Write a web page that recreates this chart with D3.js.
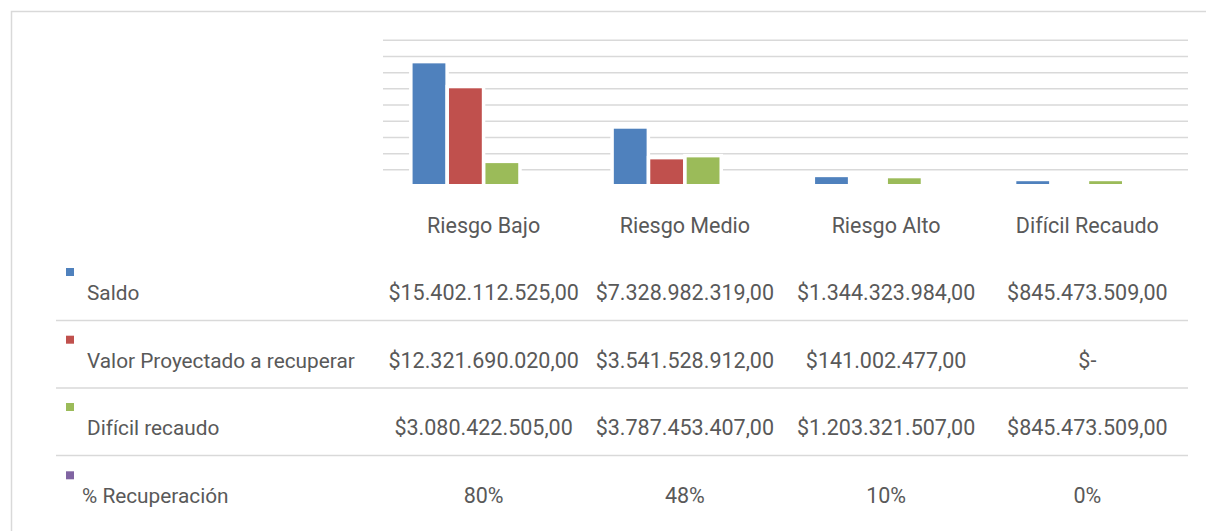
<!DOCTYPE html>
<html>
<head>
<meta charset="utf-8">
<script src="https://cdn.jsdelivr.net/npm/d3@7"></script>
<style>
  body { margin: 0; background: #fff; }
  text { font-family: Roboto, "Noto Sans", sans-serif; fill: #595959; }
</style>
</head>
<body>
<svg id="svg" width="1206" height="531"></svg>
<script>
const categories = ['Riesgo Bajo', 'Riesgo Medio', 'Riesgo Alto', 'Difícil Recaudo']
const seriesNames = ['Saldo', 'Valor Proyectado a recuperar', 'Difícil recaudo', '% Recuperación']
const saldo = [15402112525, 7328982319, 1344323984, 845473509]
const valorProyectado = [12321690020, 3541528912, 141002477, 0]
const dificilRecaudo = [3080422505, 3787453407, 1203321507, 845473509]
const recuperacion = [0.80, 0.48, 0.10, 0]
const colors = ['#4f81bd', '#c0504d', '#9bbb59', '#8064a2']
const gridValues = [2.25e9, 4.25e9, 6.25e9, 8.25e9, 10.25e9, 12.25e9, 14.25e9, 16.25e9, 18.25e9]

const allSeries = [saldo, valorProyectado, dificilRecaudo, recuperacion]

const es = d3.formatLocale({decimal: ',', thousands: '.', grouping: [3], currency: ['$', '']})
const money = v => v === 0 ? '$-' : es.format('$,.2f')(v)
const pct = es.format('.0%')

const svg = d3.select('#svg')

// chart frame (only top/left edges are in view)
svg.append('path')
  .attr('d', 'M11.5,531V11.5H1206')
  .attr('fill', 'none')
  .attr('stroke', '#d9d9d9')
  .attr('stroke-width', 1.5)

const plotLeft = 383, plotRight = 1188, plotTop = 40.3, plotBottom = 184

const x0 = d3.scaleBand().domain(categories).range([plotLeft, plotRight])
const bw = x0.bandwidth()
const x1 = d3.scaleBand().domain(seriesNames).range([bw * 0.147, bw * 0.853]).paddingInner(0.1)
const y = d3.scaleLinear().domain([0.5e9, 18.25e9]).range([plotBottom, plotTop])

// gridlines
svg.append('g')
  .selectAll('line')
  .data(gridValues)
  .enter()
  .append('line')
  .attr('x1', plotLeft)
  .attr('x2', plotRight)
  .attr('y1', d => y(d))
  .attr('y2', d => y(d))
  .attr('stroke', '#d9d9d9')
  .attr('stroke-width', 1.5)

// bars
const barData = []
seriesNames.forEach((s, si) => {
  categories.forEach((c, ci) => {
    barData.push({series: s, cat: c, value: allSeries[si][ci], color: colors[si]})
  })
})

svg.append('g')
  .selectAll('rect')
  .data(barData)
  .enter()
  .append('rect')
  .attr('x', d => x0(d.cat) + x1(d.series))
  .attr('width', x1.bandwidth())
  .attr('y', d => Math.min(y(d.value), plotBottom))
  .attr('height', d => Math.max(0, plotBottom - y(d.value)))
  .attr('fill', d => d.color)
  .attr('stroke', '#fff')
  .attr('stroke-width', d => (plotBottom - y(d.value)) > 0 ? 7 : 0)
  .attr('paint-order', 'stroke')

// category labels
svg.append('g')
  .selectAll('text')
  .data(categories)
  .enter()
  .append('text')
  .attr('x', d => x0(d) + bw / 2)
  .attr('y', 233)
  .attr('text-anchor', 'middle')
  .style('font-size', '21.5px')
  .text(d => d)

// data table
const rowBase = [300, 367.7, 435, 503.3]
const rowSep = [320.5, 388, 455.5]

svg.append('g')
  .selectAll('line')
  .data(rowSep)
  .enter()
  .append('line')
  .attr('x1', 56)
  .attr('x2', plotRight)
  .attr('y1', d => d)
  .attr('y2', d => d)
  .attr('stroke', '#d9d9d9')
  .attr('stroke-width', 1.5)

const rows = svg.append('g')
  .selectAll('g')
  .data(seriesNames)
  .enter()
  .append('g')

rows.append('rect')
  .attr('x', 66)
  .attr('y', (d, i) => rowBase[i] - 32)
  .attr('width', 8)
  .attr('height', 8)
  .attr('fill', (d, i) => colors[i])

rows.append('text')
  .attr('x', (d, i) => i === 3 ? 82 : 87)
  .attr('y', (d, i) => rowBase[i])
  .style('font-size', '20.8px')
  .text(d => d)

rows.each(function (s, si) {
  d3.select(this)
    .selectAll('text.val')
    .data(allSeries[si])
    .enter()
    .append('text')
    .attr('class', 'val')
    .attr('x', (d, ci) => x0(categories[ci]) + bw / 2)
    .attr('y', rowBase[si])
    .attr('text-anchor', 'middle')
    .style('font-size', '21.5px')
    .text(d => si === 3 ? pct(d) : money(d))
})
</script>
</body>
</html>
